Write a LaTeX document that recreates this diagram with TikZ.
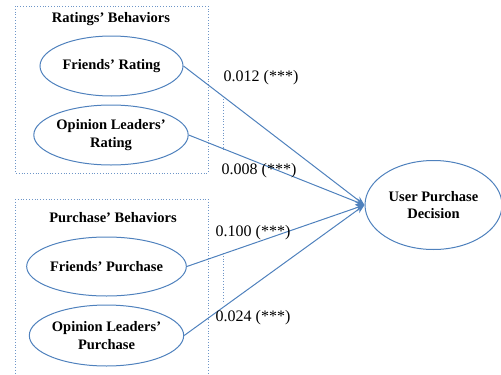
\documentclass[tikz,border=0pt]{standalone}
\usepackage{fontspec}
\setmainfont{Liberation Serif}
\usetikzlibrary{shapes.geometric,arrows.meta}
\definecolor{lineblue}{RGB}{79,129,189}
\definecolor{dotblue}{RGB}{110,150,200}
\tikzset{
  construct/.style={ellipse, draw=lineblue, line width=1pt, inner sep=0pt,
    align=center, font=\fontsize{14.5}{17.4}\selectfont\bfseries},
  groupbox/.style={draw=dotblue, dotted, line width=0.8pt},
  grouptitle/.style={font=\fontsize{14.5}{17.4}\selectfont\bfseries},
  coef/.style={font=\fontsize{16}{19}\selectfont},
  path/.style={draw=lineblue, line width=1pt, -{Stealth[length=9pt,width=7pt]}},
  tick/.style={draw=dotblue, dotted, line width=0.8pt}
}
\begin{document}
\begin{tikzpicture}[x=1pt,y=-1pt]
  \useasboundingbox (0,0) rectangle (501,375);
  % group frames
  \draw[groupbox] (15,6) rectangle (208,173);
  \draw[groupbox] (15,199) -- (208,199) (15,199) -- (15,380) (208,199) -- (208,380);
  \node[grouptitle] (rtitle) at (111,19) {Ratings’ Behaviors};
  \node[grouptitle] (ptitle) at (113,218) {Purchase’ Behaviors};
  % constructs
  \node[construct, minimum width=143pt, minimum height=60pt] (fr) at (111.5,66) {Friends’ Rating};
  \node[construct, minimum width=142pt, minimum height=60pt] (olr) at (111,135) {Opinion Leaders’\\Rating};
  \node[construct, minimum width=143pt, minimum height=59pt] (fp) at (106.5,266.5) {Friends’ Purchase};
  \node[construct, minimum width=143pt, minimum height=61pt] (olp) at (106.5,335.5) {Opinion Leaders’\\Purchase};
  \node[construct, minimum width=137pt, minimum height=89pt] (upd) at (433.5,205) {User Purchase\\Decision};
  % small dotted marks
  \coordinate (t1a) at (223,99);  \coordinate (t1b) at (223,150);
  \coordinate (t2a) at (223,253); \coordinate (t2b) at (223,302);
  \draw[tick] (t1a) -- (t1b);
  \draw[tick] (t2a) -- (t2b);
  % paths
  \draw[path] (fr.east) -- (upd.west);
  \draw[path] (olr.east) -- (upd.west);
  \draw[path] (fp.east) -- (upd.west);
  \draw[path] (olp.east) -- (upd.west);
  % coefficients
  \node[coef] (c1) at (261,78) {0.012 (***)};
  \node[coef] (c2) at (259,171) {0.008 (***)};
  \node[coef] (c3) at (253,233) {0.100 (***)};
  \node[coef] (c4) at (253,318) {0.024 (***)};
\end{tikzpicture}
\end{document}
